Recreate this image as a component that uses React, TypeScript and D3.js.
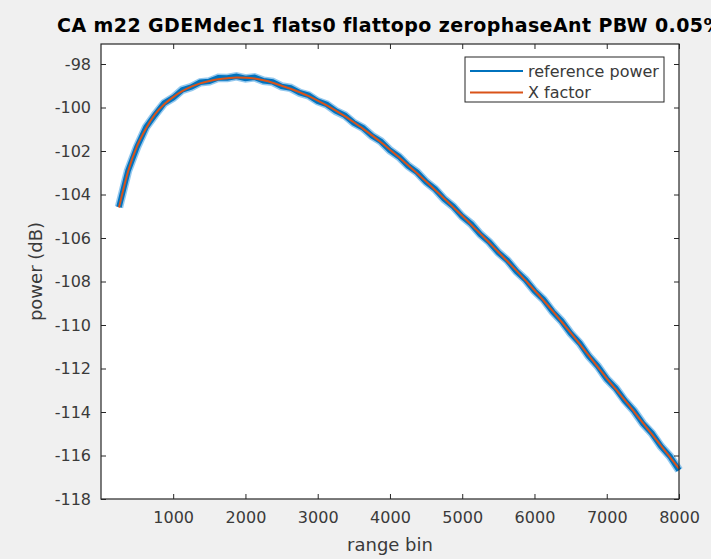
import * as d3 from "d3";
import { useEffect, useRef } from "react";

// range bins where the curves were read
const bins = [
  250, 375, 500, 625, 750, 875, 1000, 1125, 1250, 1375, 1500, 1625, 1750, 1875,
  2000, 2125, 2250, 2375, 2500, 2625, 2750, 2875, 3000, 3125, 3250, 3375, 3500,
  3625, 3750, 3875, 4000, 4125, 4250, 4375, 4500, 4625, 4750, 4875, 5000, 5125,
  5250, 5375, 5500, 5625, 5750, 5875, 6000, 6125, 6250, 6375, 6500, 6625, 6750,
  6875, 7000, 7125, 7250, 7375, 7500, 7625, 7750, 7875, 8000,
];

// X factor (smooth, dB)
const xFactor = [
  -104.6, -102.95, -101.78, -100.95, -100.3, -99.85, -99.52, -99.25, -99.04,
  -98.89, -98.78, -98.7, -98.65, -98.62, -98.63, -98.67, -98.75, -98.86, -99.0,
  -99.14, -99.3, -99.48, -99.68, -99.9, -100.14, -100.4, -100.68, -100.97,
  -101.28, -101.6, -101.94, -102.29, -102.65, -103.02, -103.4, -103.79, -104.18,
  -104.58, -104.98, -105.39, -105.8, -106.22, -106.64, -107.07, -107.5, -107.95,
  -108.4, -108.87, -109.35, -109.85, -110.35, -110.87, -111.4, -111.92, -112.45,
  -112.95, -113.45, -113.97, -114.5, -115.02, -115.55, -116.07, -116.6,
];

// reference power (noisy, dB)
const refPower = [
  -104.58, -102.91, -101.81, -100.9, -100.33, -99.8, -99.55, -99.19, -99.06,
  -98.84, -98.8, -98.63, -98.64, -98.57, -98.66, -98.61, -98.77, -98.82, -99.03,
  -99.1, -99.32, -99.44, -99.71, -99.86, -100.16, -100.36, -100.71, -100.93,
  -101.3, -101.56, -101.97, -102.26, -102.68, -102.98, -103.42, -103.75, -104.21,
  -104.55, -105.01, -105.35, -105.83, -106.19, -106.67, -107.03, -107.53,
  -107.92, -108.43, -108.83, -109.38, -109.82, -110.38, -110.83, -111.43,
  -111.89, -112.48, -112.91, -113.48, -113.94, -114.53, -114.98, -115.58,
  -116.04, -116.68,
];

const xTicks = [1000, 2000, 3000, 4000, 5000, 6000, 7000, 8000];
const yTicks = [-118, -116, -114, -112, -110, -108, -106, -104, -102, -100, -98];
const seriesNames = ["reference power", "X factor"];
const seriesColors = ["#0072BD", "#D95319"];

const W = 711;
const H = 559;
const margin = { top: 44, right: 32, bottom: 60, left: 101 };
const axisColor = "#262626";
const textColor = "#3a3a3a";
const font = "'DejaVu Sans', sans-serif";

export default function App() {
  const ref = useRef<SVGSVGElement>(null);

  useEffect(() => {
    const svg = d3.select(ref.current);
    svg.selectAll("*").remove();

    const x = d3.scaleLinear().domain([1, 8000]).range([margin.left, W - margin.right]);
    const y = d3.scaleLinear().domain([-118, -97.08]).range([H - margin.bottom, margin.top]);

    svg.append("rect").attr("width", W).attr("height", H).attr("fill", "#f0f0f0");
    svg.append("rect")
      .attr("x", margin.left).attr("y", margin.top)
      .attr("width", W - margin.left - margin.right)
      .attr("height", H - margin.top - margin.bottom)
      .attr("fill", "#fff");

    // lines
    const pts = (vals: number[]) => bins.map((b, i) => [b, vals[i]] as [number, number]);
    const line = d3.line<[number, number]>().x(d => x(d[0])).y(d => y(d[1]));
    const smooth = d3.line<[number, number]>().x(d => x(d[0])).y(d => y(d[1])).curve(d3.curveMonotoneX);

    // noisy band: light halo + solid core
    svg.append("path").attr("d", line(pts(refPower)))
      .attr("fill", "none").attr("stroke", "#3d9be0").attr("stroke-opacity", 0.55)
      .attr("stroke-width", 8.5);
    svg.append("path").attr("d", line(pts(refPower)))
      .attr("fill", "none").attr("stroke", seriesColors[0]).attr("stroke-width", 5.5);
    svg.append("path").attr("d", smooth(pts(xFactor)))
      .attr("fill", "none").attr("stroke", seriesColors[1]).attr("stroke-width", 2);

    // axes (ticks inside, box)
    const styleAxis = (g: any) => {
      g.select(".domain").remove();
      g.selectAll("line").attr("stroke", axisColor);
      g.selectAll("text").attr("fill", textColor).style("font-family", font).style("font-size", "16px");
    };
    svg.append("g").attr("transform", `translate(0,${H - margin.bottom})`)
      .call(d3.axisBottom(x).tickValues(xTicks).tickSizeInner(-5).tickSizeOuter(0).tickPadding(13).tickFormat(d => String(d)))
      .call(styleAxis);
    svg.append("g").attr("transform", `translate(0,${margin.top})`)
      .call(d3.axisTop(x).tickValues(xTicks).tickSizeInner(-5).tickSizeOuter(0).tickFormat(() => ""))
      .call(styleAxis);
    svg.append("g").attr("transform", `translate(${margin.left},0)`)
      .call(d3.axisLeft(y).tickValues(yTicks).tickSizeInner(-5).tickSizeOuter(0).tickPadding(10).tickFormat(d => String(d)))
      .call(styleAxis);
    svg.append("g").attr("transform", `translate(${W - margin.right},0)`)
      .call(d3.axisRight(y).tickValues(yTicks).tickSizeInner(-5).tickSizeOuter(0).tickFormat(() => ""))
      .call(styleAxis);

    svg.append("rect")
      .attr("x", margin.left).attr("y", margin.top)
      .attr("width", W - margin.left - margin.right)
      .attr("height", H - margin.top - margin.bottom)
      .attr("fill", "none").attr("stroke", axisColor).attr("stroke-width", 1.2);

    // labels
    svg.append("text")
      .attr("x", (margin.left + W - margin.right) / 2).attr("y", 551)
      .attr("text-anchor", "middle").attr("fill", textColor)
      .style("font-family", font).style("font-size", "18px")
      .text("range bin");
    svg.append("text")
      .attr("transform", `translate(42,${(margin.top + H - margin.bottom) / 2}) rotate(-90)`)
      .attr("text-anchor", "middle").attr("fill", textColor)
      .style("font-family", font).style("font-size", "18px")
      .text("power (dB)");
    svg.append("text")
      .attr("x", (margin.left + W - margin.right) / 2).attr("y", 32)
      .attr("text-anchor", "middle").attr("fill", "#000")
      .style("font-family", font).style("font-size", "19px").style("font-weight", "bold")
      .style("letter-spacing", "0.4px")
      .text("CA m22 GDEMdec1 flats0 flattopo zerophaseAnt PBW 0.05%");

    // legend
    const lg = svg.append("g").attr("transform", "translate(465,57)");
    lg.append("rect").attr("width", 199).attr("height", 45)
      .attr("fill", "#fff").attr("stroke", axisColor).attr("stroke-width", 1);
    seriesNames.forEach((name, i) => {
      const cy = 14 + i * 21.5;
      lg.append("line").attr("x1", 5).attr("x2", 58).attr("y1", cy).attr("y2", cy)
        .attr("stroke", seriesColors[i]).attr("stroke-width", 1.8);
      lg.append("text").attr("x", 63).attr("y", cy).attr("dy", "0.35em")
        .attr("fill", textColor).style("font-family", font).style("font-size", "16px")
        .text(name);
    });
  }, []);

  return <svg ref={ref} width={W} height={H} style={{ position: "absolute", left: 0, top: 0 }} />;
}
